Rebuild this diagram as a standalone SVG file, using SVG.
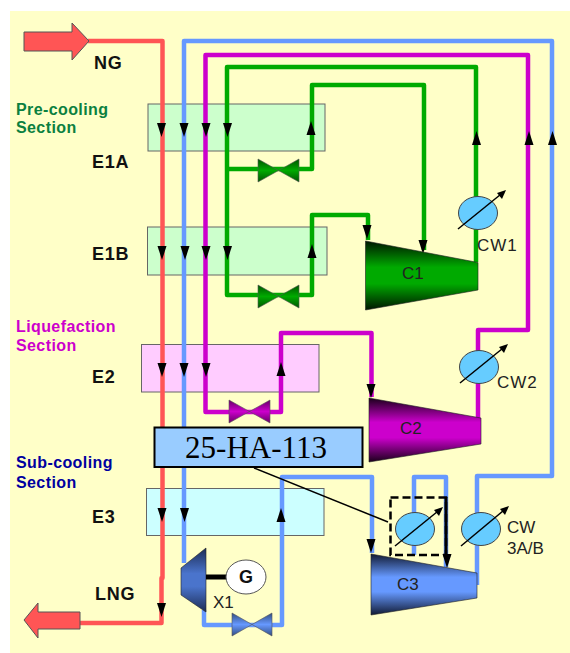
<svg xmlns="http://www.w3.org/2000/svg" width="570" height="653" viewBox="0 0 570 653">
<style>
.pipe{fill:none;stroke-width:4.500;stroke-linejoin:round}
.red{stroke:#ff5555}.blue{stroke:#6699ff}.mag{stroke:#cc00cc}.grn{stroke:#00aa00}
.sec{stroke:#666;stroke-width:1}
.lab{font-family:"Liberation Sans",Arial,sans-serif;font-weight:700;font-size:18px;letter-spacing:.8px;fill:#111}
.head{font-family:"Liberation Sans",Arial,sans-serif;font-weight:700;font-size:16px;letter-spacing:.4px}
.tag{font-family:"Liberation Sans",Arial,sans-serif;font-size:17px;fill:#222}
.cw{fill:#66ccff;stroke:#444;stroke-width:1}
.rod{stroke:#000;stroke-width:1.500;fill:none}
.bigarrow{fill:#ff5555;stroke:#555;stroke-width:1}
.valve{stroke:#555;stroke-width:.6}
.comp{stroke:#222;stroke-width:.6}
</style>
<defs>
<polygon id="dn" points="-4.500,0 4.500,0 0,14" fill="#000"/>
<polygon id="up" points="-4.500,14 4.500,14 0,0" fill="#000"/>
<linearGradient id="gG" x1="0" y1="0" x2="0" y2="1"><stop offset="0" stop-color="#001500"/><stop offset=".38" stop-color="#00aa00"/><stop offset=".62" stop-color="#00aa00"/><stop offset="1" stop-color="#001500"/></linearGradient>
<linearGradient id="gM" x1="0" y1="0" x2="0" y2="1"><stop offset="0" stop-color="#1a001a"/><stop offset=".38" stop-color="#cc00cc"/><stop offset=".62" stop-color="#cc00cc"/><stop offset="1" stop-color="#1a001a"/></linearGradient>
<linearGradient id="gB" x1="0" y1="0" x2="0" y2="1"><stop offset="0" stop-color="#111a33"/><stop offset=".38" stop-color="#6699ff"/><stop offset=".62" stop-color="#6699ff"/><stop offset="1" stop-color="#111a33"/></linearGradient>
<linearGradient id="gX" x1="0" y1="0" x2="0" y2="1"><stop offset="0" stop-color="#1c2c55"/><stop offset=".4" stop-color="#4a74cc"/><stop offset=".6" stop-color="#4a74cc"/><stop offset="1" stop-color="#1c2c55"/></linearGradient>
<linearGradient id="vG" x1="0" y1="0" x2="0" y2="1"><stop offset="0" stop-color="#005500"/><stop offset=".5" stop-color="#00aa00"/><stop offset="1" stop-color="#005500"/></linearGradient>
<linearGradient id="vM" x1="0" y1="0" x2="0" y2="1"><stop offset="0" stop-color="#660066"/><stop offset=".5" stop-color="#cc00cc"/><stop offset="1" stop-color="#660066"/></linearGradient>
<linearGradient id="vB" x1="0" y1="0" x2="0" y2="1"><stop offset="0" stop-color="#334d80"/><stop offset=".5" stop-color="#6699ff"/><stop offset="1" stop-color="#334d80"/></linearGradient>
</defs>
<rect x="10" y="11" width="560" height="642" fill="#ffffc8"/>

<g id="E1A"><rect class="sec" x="148" y="104" width="177" height="47" fill="#ccffcc"/><text class="lab" x="92" y="168">E1A</text></g>
<g id="E1B"><rect class="sec" x="147.500" y="227" width="179.500" height="48" fill="#ccffcc"/><text class="lab" x="92" y="260">E1B</text></g>
<g id="E2"><rect class="sec" x="141.500" y="344.500" width="177.500" height="47.500" fill="#ffccff"/><text class="lab" x="92" y="383">E2</text></g>
<g id="E3"><rect class="sec" x="146.500" y="488.500" width="177.500" height="47" fill="#ccffff"/><text class="lab" x="92" y="523">E3</text></g>

<g id="section-labels">
<text class="head" x="16" y="115" fill="#0b8040">Pre-cooling</text>
<text class="head" x="16" y="133" fill="#0b8040">Section</text>
<text class="head" x="16" y="332" fill="#cc00cc">Liquefaction</text>
<text class="head" x="16" y="351" fill="#cc00cc">Section</text>
<text class="head" x="16" y="468" fill="#0000a0">Sub-cooling</text>
<text class="head" x="16" y="488" fill="#0000a0">Section</text>
</g>

<g id="connectors">
<path class="pipe red" d="M88 41H162.500V578H161.500V623H80"/>
<path class="pipe blue" d="M184 563V41H552V476H477V585"/>
<path class="pipe blue" d="M204 610V625H282V477H372V553"/>
<path class="pipe blue" d="M414 555V477H446V567"/>
<path class="pipe mag" d="M478 418V330H528V55H205.500V412H281V333H371.500V397"/>
<path class="pipe grn" d="M476 262V67H227V295H312V215H368V240"/>
<path class="pipe grn" d="M227 169H312V85H424V250"/>
<path d="M254 468L388 522" stroke="#000" stroke-width="1.500" fill="none"/>
<rect x="390.500" y="497.500" width="55.500" height="57.500" fill="none" stroke="#000" stroke-width="2.500" stroke-dasharray="8 4"/>
<path d="M446 497V556" stroke="#000" stroke-width="3" fill="none"/>
<use href="#dn" x="161.500" y="123"/><use href="#dn" x="184" y="123"/><use href="#dn" x="206" y="123"/><use href="#dn" x="227.500" y="123"/>
<use href="#dn" x="162" y="246"/><use href="#dn" x="185" y="246"/><use href="#dn" x="206" y="246"/><use href="#dn" x="227.500" y="246"/>
<use href="#dn" x="162" y="363"/><use href="#dn" x="184" y="363"/><use href="#dn" x="206" y="363"/>
<use href="#dn" x="162" y="508"/><use href="#dn" x="184.500" y="508"/>
<use href="#dn" x="161.500" y="603"/>
<use href="#dn" x="367" y="225"/><use href="#dn" x="423" y="240"/><use href="#dn" x="371" y="384"/><use href="#dn" x="371" y="539"/><use href="#dn" x="447" y="554"/>
<use href="#up" x="311" y="121"/><use href="#up" x="312" y="244"/><use href="#up" x="281" y="362"/><use href="#up" x="281" y="508"/>
<use href="#up" x="476.500" y="131"/><use href="#up" x="529" y="131"/><use href="#up" x="552.500" y="131"/>
</g>

<g id="NG"><polygon class="bigarrow" points="24,32 72,32 72,23 89,41 72,60 72,51 24,51"/><text class="lab" x="94" y="69">NG</text></g>
<g id="LNG"><polygon class="bigarrow" points="80,612 38,612 38,603 24,620 38,638 38,629 80,629"/><text class="lab" x="95" y="600">LNG</text></g>

<g id="valve-green-1"><polygon class="valve" fill="url(#vG)" points="258,159 299,182 299,159 258,182"/></g>
<g id="valve-green-2"><polygon class="valve" fill="url(#vG)" points="258,285 299,308 299,285 258,308"/></g>
<g id="valve-magenta"><polygon class="valve" fill="url(#vM)" points="229,400 270,423 270,400 229,423"/></g>
<g id="valve-blue"><polygon class="valve" fill="url(#vB)" points="232,613 272,636 272,613 232,636"/></g>

<g id="C1"><polygon class="comp" fill="url(#gG)" points="365.500,241 478,262.500 478,290 365.500,310"/><text class="tag" x="402" y="279">C1</text></g>
<g id="C2"><polygon class="comp" fill="url(#gM)" points="369,398 481,418 481,444 369,462"/><text class="tag" x="400" y="434">C2</text></g>
<g id="C3"><polygon class="comp" fill="url(#gB)" points="371,554 477,573 477,598 371,615"/><text class="tag" x="397" y="590">C3</text></g>

<g id="X1"><polygon class="comp" fill="url(#gX)" points="181,568 206,548 206,612 181,595"/><text class="tag" x="213" y="608">X1</text></g>
<g id="G"><rect x="206" y="574.500" width="24" height="5" fill="#000"/><ellipse cx="246" cy="577" rx="20" ry="17" fill="#fff" stroke="#555"/><text x="246" y="583" text-anchor="middle" font-family="'Liberation Sans',Arial,sans-serif" font-weight="700" font-size="18" fill="#111">G</text></g>

<g id="CW1"><ellipse class="cw" cx="478" cy="213" rx="19.500" ry="16.500"/><path class="rod" d="M458 229L503 192.500"/><polygon points="506,190 497,193 502,199"/><text class="tag" x="477" y="251" letter-spacing="1">CW1</text></g>
<g id="CW2"><ellipse class="cw" cx="479" cy="367" rx="19.500" ry="16.500"/><path class="rod" d="M460 383L505 346.500"/><polygon points="508,344 499,347 504,353"/><text class="tag" x="497" y="388" letter-spacing="1">CW2</text></g>
<g id="CW3"><ellipse class="cw" cx="415" cy="529" rx="19.500" ry="16.500"/><path class="rod" d="M395 546L440 509.500"/><polygon points="443,507 434,510 439,516"/></g>
<g id="CW3AB"><ellipse class="cw" cx="481" cy="529" rx="19.500" ry="16.500"/><path class="rod" d="M461 546L506 508.500"/><polygon points="509,506 500,509 505,515"/><text class="tag" x="507" y="533">CW</text><text class="tag" x="507" y="554">3A/B</text></g>

<g id="tag-25-HA-113"><rect x="154.500" y="427.500" width="208" height="39.500" fill="#99ccff" stroke="#000" stroke-width="2"/><text x="256" y="458" text-anchor="middle" font-family="'Liberation Serif','Times New Roman',serif" font-size="31" fill="#000">25-HA-113</text></g>
</svg>
